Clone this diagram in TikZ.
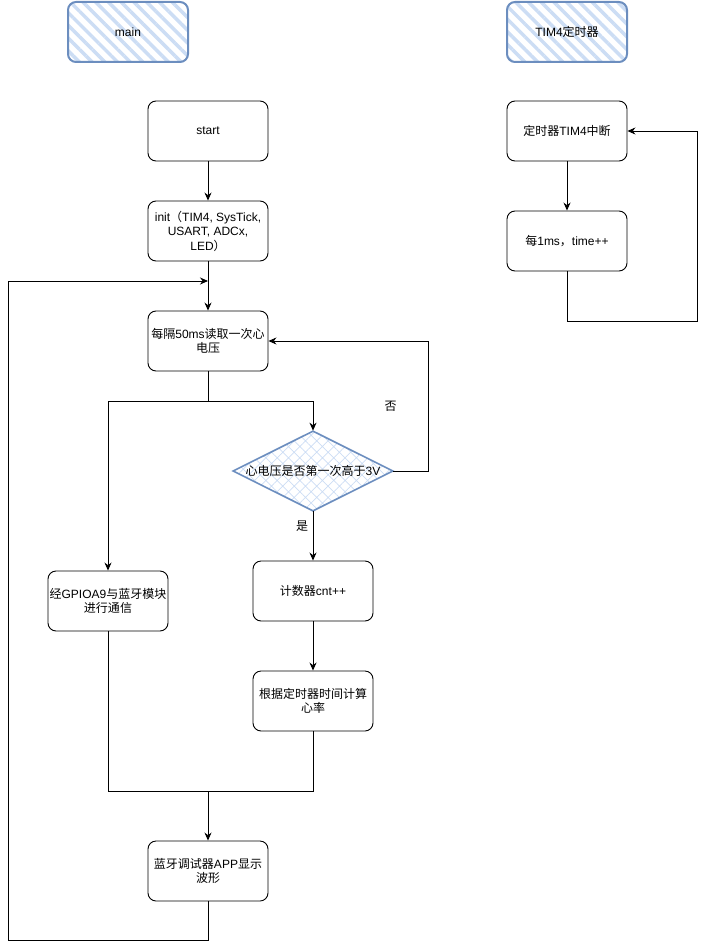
\documentclass[tikz,border=0pt]{standalone}
\usepackage{fontspec}
\setmainfont{Liberation Sans}
\newfontfamily\cjk{Noto Sans CJK SC}
\usetikzlibrary{shapes.geometric,arrows.meta,patterns.meta}
\definecolor{edgeblue}{HTML}{6C8EBF}
\definecolor{hatchblue}{HTML}{CCDDF4}
\tikzset{
  box/.style={draw,rounded corners=8pt,minimum width=120pt,minimum height=60pt,inner sep=0pt,align=center,line width=0.9pt},
  header/.style={draw=edgeblue,line width=2pt,rounded corners=8pt,minimum width=120pt,minimum height=60pt,
    pattern={Lines[angle=-45,distance=9pt,line width=3.5pt]},pattern color=hatchblue},
  decision/.style={diamond,draw=edgeblue,line width=1.6pt,minimum width=160pt,minimum height=80pt,inner sep=0pt,
    pattern={Hatch[angle=45,distance=8pt,line width=0.7pt]},pattern color=hatchblue},
  flow/.style={-{Stealth[length=8pt,width=7pt]},line width=0.9pt},
  line/.style={line width=0.9pt}
}
\begin{document}
\begin{tikzpicture}[x=1pt,y=-1pt,font=\fontsize{12}{14.5}\selectfont]
  \useasboundingbox (0,0) rectangle (706,950);
  % headers
  \node[header] (hmain) at (128,32) {main};
  \node[header] (htim) at (567,32) {TIM4{\cjk 定时器}};
  % main flow
  \node[box] (start) at (208,131) {start};
  \node[box] (init) at (208,231) {init{\cjk （}TIM4, SysTick,\\USART, ADCx,\\LED{\cjk ）}};
  \node[box] (read) at (208,341) {{\cjk 每隔}50ms{\cjk 读取一次心}\\{\cjk 电压}};
  \node[decision] (dec) at (313,471) {};
  \node at (dec) {{\cjk 心电压是否第一次高于}3V};
  \node[box] (comm) at (108,601) {{\cjk 经}GPIOA9{\cjk 与蓝牙模块}\\{\cjk 进行通信}};
  \node[box] (cnt) at (313,591) {{\cjk 计数器}cnt++};
  \node[box] (rate) at (313,701) {{\cjk 根据定时器时间计算}\\{\cjk 心率}};
  \node[box] (app) at (208,871) {{\cjk 蓝牙调试器}APP{\cjk 显示}\\{\cjk 波形}};
  % timer flow
  \node[box] (isr) at (567,131) {{\cjk 定时器}TIM4{\cjk 中断}};
  \node[box] (tick) at (567,241) {{\cjk 每}1ms{\cjk ，}time++};

  \coordinate (split) at (208,401);
  \coordinate (merge) at (208,791);
  \coordinate (loopin) at (208,281);
  \coordinate (back) at (8,940);
  \coordinate (tback) at (697,321);

  \draw[flow] (start) -- (init);
  \draw[flow] (init) -- (read);
  \draw[line] (read) -- (split);
  \draw[flow] (split) -| (comm);
  \draw[flow] (split) -| (dec.north);
  \draw[flow] (dec.east) -- ++(35,0) |- node[pos=0.25,left=28pt] {\cjk 否} (read.east);
  \draw[flow] (dec.south) -- node[pos=0.3,left=1pt] {\cjk 是} (cnt);
  \draw[flow] (cnt) -- (rate);
  \draw[line] (comm) |- (merge);
  \draw[line] (rate) |- (merge);
  \draw[flow] (merge) -- (app);
  \draw[flow] (app) |- (back) |- (loopin);
  \draw[flow] (isr) -- (tick);
  \draw[flow] (tick) |- (tback) |- (isr.east);
\end{tikzpicture}
\end{document}
